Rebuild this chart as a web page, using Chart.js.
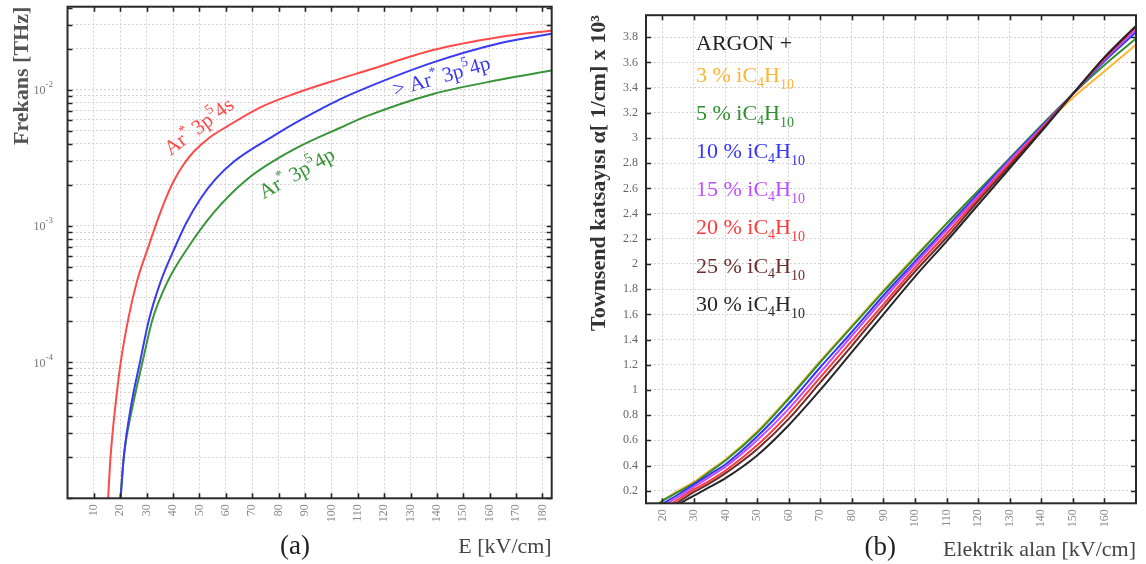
<!DOCTYPE html>
<html>
<head>
<meta charset="utf-8">
<script src="https://cdn.jsdelivr.net/npm/chart.js@4.4.1/dist/chart.umd.min.js"></script>
<style>
  html, body { margin: 0; padding: 0; background: #fff; }
  #wrap { position: relative; width: 1146px; height: 564px; }
  .panel { position: absolute; top: 0; height: 564px; width: 573px; }
  #panelA { left: 0; }
  #panelB { left: 573px; }
</style>
</head>
<body>
<div id="wrap">
  <div class="panel" id="panelA"><canvas id="chartA"></canvas></div>
  <div class="panel" id="panelB"><canvas id="chartB"></canvas></div>
</div>
<script>
// ---------- panel (a): Frekans vs E (log) ----------
const fieldTicksA = [10, 20, 30, 40, 50, 60, 70, 80, 90, 100, 110, 120, 130, 140, 150, 160, 170, 180];
const decadesA = [-5, -4, -3, -2];
const mantissasA = [1, 2, 3, 4, 5, 6, 7, 8, 9];
const labelledDecadesA = [-4, -3, -2];

// Ar* 3p5 4s
const red4sE = [15.4, 16.1, 17.0, 18.5, 20.1, 23.3, 26.4, 30.4, 33.0, 36.0, 40.3, 44.0, 47.9, 54.0, 60.5, 73.1, 86.0, 100.0, 113.4, 138.6, 163.8, 183.5];
const red4sF = [1.0e-5, 1.76e-5, 2.91e-5, 5.5e-5, 9.75e-5, 2.2e-4, 3.96e-4, 6.8e-4, 9.55e-4, 1.38e-3, 2.14e-3, 2.82e-3, 3.51e-3, 4.47e-3, 5.37e-3, 7.41e-3, 9.33e-3, 1.148e-2, 1.38e-2, 1.95e-2, 2.43e-2, 2.72e-2];
// > Ar* 3p5 4p
const blue4pE = [20.1, 21.4, 23.9, 27.7, 30.8, 35.2, 40.9, 45.0, 50.4, 56.0, 63.0, 78.1, 88.2, 103.4, 113.4, 138.6, 163.8, 183.5];
const blue4pF = [1.0e-5, 2.07e-5, 4.56e-5, 1.05e-4, 2.02e-4, 3.85e-4, 7.08e-4, 1.05e-3, 1.58e-3, 2.19e-3, 2.95e-3, 4.57e-3, 5.96e-3, 8.51e-3, 1.035e-2, 1.585e-2, 2.19e-2, 2.57e-2];
// Ar* 3p5 4p
const green4pE = [20.1, 21.4, 24.5, 28.3, 32.1, 37.8, 45.3, 55.4, 68.1, 85.8, 103.4, 113.4, 138.6, 163.8, 183.5];
const green4pF = [1.0e-5, 2.07e-5, 4.56e-5, 9.75e-5, 2.02e-4, 3.85e-4, 6.76e-4, 1.25e-3, 2.2e-3, 3.64e-3, 5.25e-3, 6.38e-3, 9.29e-3, 1.18e-2, 1.38e-2];

// ---------- panel (b): Townsend coefficient vs field ----------
const fieldTicksB = [20, 30, 40, 50, 60, 70, 80, 90, 100, 110, 120, 130, 140, 150, 160];
const alphaTicksB = [0.2, 0.4, 0.6, 0.8, 1, 1.2, 1.4, 1.6, 1.8, 2, 2.2, 2.4, 2.6, 2.8, 3, 3.2, 3.4, 3.6, 3.8];
const fieldGridB = [20, 25, 30, 35, 40, 50, 60, 70, 80, 90, 100, 110, 120, 130, 140, 150, 160, 170];
const mixLabels = ['3 %', '5 %', '10 %', '15 %', '20 %', '25 %', '30 %'];
const mixStartE = [18.8, 19.0, 20.3, 21.6, 23.0, 24.3, 25.5];   // field where each curve leaves the bottom axis
const alpha3 = [0.12, 0.20, 0.27, 0.36, 0.45, 0.67, 0.94, 1.23, 1.51, 1.79, 2.06, 2.32, 2.58, 2.83, 3.08, 3.32, 3.53, 3.74];
const alpha5 = [0.12, 0.19, 0.26, 0.35, 0.44, 0.66, 0.93, 1.22, 1.50, 1.78, 2.05, 2.32, 2.58, 2.84, 3.10, 3.35, 3.58, 3.79];
const alpha10 = [null, 0.17, 0.25, 0.33, 0.41, 0.63, 0.89, 1.18, 1.46, 1.75, 2.02, 2.29, 2.56, 2.83, 3.09, 3.35, 3.61, 3.84];
const alpha15 = [null, 0.15, 0.23, 0.31, 0.39, 0.60, 0.85, 1.14, 1.43, 1.72, 2.00, 2.27, 2.54, 2.82, 3.08, 3.35, 3.62, 3.86];
const alpha20 = [null, 0.13, 0.21, 0.28, 0.36, 0.56, 0.81, 1.10, 1.39, 1.68, 1.97, 2.24, 2.52, 2.80, 3.07, 3.35, 3.63, 3.88];
const alpha25 = [null, 0.11, 0.19, 0.26, 0.34, 0.53, 0.77, 1.06, 1.35, 1.65, 1.94, 2.21, 2.50, 2.78, 3.06, 3.35, 3.64, 3.89];
const alpha30 = [null, null, 0.16, 0.23, 0.30, 0.48, 0.72, 1.00, 1.30, 1.60, 1.90, 2.18, 2.47, 2.76, 3.05, 3.35, 3.64, 3.89];
const mixColors = ['#ffb432', '#2f8f2f', '#3434ff', '#bf4dff', '#ff3a3a', '#6e2c2c', '#262626'];

const SERIF = '"Liberation Serif", "Times New Roman", serif';
Chart.defaults.font.family = SERIF;

const yMinA = 1e-5, yMaxA = 0.0406;
const yMinB = 0.1, yMaxB = 3.975;

function pairs(xs, ys) {
    return xs.map((x, i) => ({ x: x, y: ys[i] }));
}

function mixSeries(i, values) {
    const pts = [{ x: mixStartE[i], y: yMinB }];
    fieldGridB.forEach((e, j) => {
        if (values[j] !== null && e > mixStartE[i]) pts.push({ x: e, y: values[j] });
    });
    return pts;
}

// text with sub/superscripts, optionally rotated
function drawRich(ctx, x, y, angle, parts, color) {
    ctx.save();
    ctx.translate(x, y);
    ctx.rotate(angle * Math.PI / 180);
    ctx.fillStyle = color;
    ctx.textAlign = 'left';
    ctx.textBaseline = 'alphabetic';
    let cx = 0;
    parts.forEach(p => {
        ctx.font = p.size + 'px ' + SERIF;
        ctx.fillText(p.t, cx, p.dy || 0);
        cx += ctx.measureText(p.t).width;
    });
    ctx.restore();
}

// box + inward tick marks on all four sides
const frameTicks = {
    id: 'frameTicks',
    afterDraw(chart) {
        const { ctx, chartArea: a, scales: { x, y } } = chart;
        ctx.save();
        ctx.strokeStyle = '#222';
        ctx.lineWidth = 1.6;
        ctx.beginPath();
        x.ticks.forEach(t => {
            const px = Math.round(x.getPixelForValue(t.value)) + 0.5;
            ctx.moveTo(px, a.bottom); ctx.lineTo(px, a.bottom - 5);
            ctx.moveTo(px, a.top); ctx.lineTo(px, a.top + 5);
        });
        y.ticks.forEach(t => {
            const py = Math.round(y.getPixelForValue(t.value)) + 0.5;
            ctx.moveTo(a.left, py); ctx.lineTo(a.left + 5, py);
            ctx.moveTo(a.right, py); ctx.lineTo(a.right - 5, py);
        });
        ctx.stroke();
        ctx.lineWidth = 2;
        ctx.strokeStyle = '#2a2a2a';
        ctx.strokeRect(a.left, a.top, a.width, a.height);
        ctx.restore();
    }
};

const curveLabelsA = [
    { color: '#ff4a4a', e: 39.0, f: 3.25e-3, angle: -37,
      parts: [{ t: 'Ar', size: 21 }, { t: '*', size: 14, dy: -9 }, { t: ' 3p', size: 21 }, { t: '5', size: 14, dy: -10 }, { t: '4s', size: 21 }] },
    { color: '#3a3af0', e: 124.1, f: 8.9e-3, angle: -16,
      parts: [{ t: '> Ar', size: 21 }, { t: '*', size: 14, dy: -9 }, { t: ' 3p', size: 21 }, { t: '5', size: 14, dy: -10 }, { t: '4p', size: 21 }] },
    { color: '#3a943a', e: 74.3, f: 1.57e-3, angle: -29,
      parts: [{ t: 'Ar', size: 21 }, { t: '*', size: 14, dy: -9 }, { t: ' 3p', size: 21 }, { t: '5', size: 14, dy: -10 }, { t: '4p', size: 21 }] }
];

const annotateA = {
    id: 'annotateA',
    afterDraw(chart) {
        const { ctx, chartArea: a, scales: { x, y } } = chart;
        // y tick labels 10^n
        y.ticks.forEach(t => {
            const d = Math.round(Math.log10(t.value));
            if (Math.abs(Math.log10(t.value) - d) > 1e-6 || !labelledDecadesA.includes(d)) return;
            const py = y.getPixelForValue(t.value);
            drawRich(ctx, a.left - 34, py + 4.5, 0, [{ t: '10', size: 12 }, { t: '-' + Math.abs(d), size: 9, dy: -7 }], '#777');
        });
        curveLabelsA.forEach(l => {
            drawRich(ctx, x.getPixelForValue(l.e), y.getPixelForValue(l.f), l.angle, l.parts, l.color);
        });
        ctx.save();
        ctx.font = '27px ' + SERIF;
        ctx.fillStyle = '#222';
        ctx.textAlign = 'center';
        ctx.textBaseline = 'middle';
        ctx.fillText('(a)', a.left + a.width * 0.47, 547);
        ctx.restore();
    }
};

const annotateB = {
    id: 'annotateB',
    afterDraw(chart) {
        const { ctx, chartArea: a } = chart;
        const lx = a.left + 50;
        drawRich(ctx, lx, 50, 0, [{ t: 'ARGON +', size: 22 }], '#222');
        mixLabels.forEach((m, i) => {
            drawRich(ctx, lx, 82 + i * 38.1, 0, [
                { t: m + ' iC', size: 22 }, { t: '4', size: 14, dy: 5 },
                { t: 'H', size: 22 }, { t: '10', size: 14, dy: 7 }
            ], mixColors[i]);
        });
        ctx.save();
        ctx.font = '27px ' + SERIF;
        ctx.fillStyle = '#222';
        ctx.textAlign = 'center';
        ctx.textBaseline = 'middle';
        ctx.fillText('(b)', a.left + a.width * 0.478, 548);
        ctx.restore();
    }
};

const gridStyle = { color: '#d2d2d2', lineWidth: 1, drawTicks: false };
const dotted = { display: false, dash: [2, 2] };
const tickFont = { family: SERIF, size: 12 };

new Chart(document.getElementById('chartA'), {
    type: 'line',
    data: {
        datasets: [
            { data: pairs(red4sE, red4sF), borderColor: '#ff4a4a', order: 1 },
            { data: pairs(blue4pE, blue4pF), borderColor: '#3a3af0', order: 2 },
            { data: pairs(green4pE, green4pF), borderColor: '#3a943a', order: 3 }
        ]
    },
    options: {
        responsive: true,
        maintainAspectRatio: false,
        animation: false,
        layout: { padding: { top: 6.7, right: 21.3, left: 0, bottom: 0 } },
        elements: {
            line: { borderWidth: 2, cubicInterpolationMode: 'monotone' },
            point: { radius: 0 }
        },
        datasets: { line: { clip: 0 } },
        scales: {
            x: {
                type: 'linear', min: 0, max: 183.5,
                afterBuildTicks: s => { s.ticks = fieldTicksA.map(v => ({ value: v })); },
                afterFit: s => { s.height = 65.7; },
                grid: gridStyle, border: dotted,
                ticks: { minRotation: 90, maxRotation: 90, padding: 6, color: '#8a8a8a', font: tickFont, callback: v => String(v) },
                title: { display: true, text: 'E [kV/cm]', align: 'end', color: '#444', font: { family: SERIF, size: 22 }, padding: { top: 0, bottom: 4 } }
            },
            y: {
                type: 'logarithmic', min: yMinA, max: yMaxA,
                afterBuildTicks: s => {
                    s.ticks = decadesA.flatMap(d => mantissasA.map(m => m * Math.pow(10, d)))
                        .filter(v => v <= yMaxA).map(v => ({ value: v }));
                },
                afterFit: s => { s.width = 67.5; },
                grid: gridStyle, border: dotted,
                ticks: { display: false },
                title: { display: true, text: 'Frekans [THz]', align: 'end', color: '#555', font: { family: SERIF, size: 22, weight: 'bold' }, padding: { top: 9, bottom: 0 } }
            }
        },
        plugins: { legend: { display: false }, tooltip: { enabled: false } }
    },
    plugins: [frameTicks, annotateA]
});

const mixValues = [alpha3, alpha5, alpha10, alpha15, alpha20, alpha25, alpha30];

new Chart(document.getElementById('chartB'), {
    type: 'line',
    data: {
        datasets: mixValues.map((vals, i) => ({
            label: mixLabels[i],
            data: mixSeries(i, vals),
            borderColor: mixColors[i],
            order: mixValues.length - i
        }))
    },
    options: {
        responsive: true,
        maintainAspectRatio: false,
        animation: false,
        layout: { padding: { top: 6.7, right: 10, left: 0, bottom: 0 } },
        elements: {
            line: { borderWidth: 2, cubicInterpolationMode: 'monotone' },
            point: { radius: 0 }
        },
        datasets: { line: { clip: 0 } },
        scales: {
            x: {
                type: 'linear', min: 14.8, max: 170,
                afterBuildTicks: s => { s.ticks = fieldTicksB.map(v => ({ value: v })); },
                afterFit: s => { s.height = 60.7; },
                grid: gridStyle, border: dotted,
                ticks: { minRotation: 90, maxRotation: 90, padding: 6, color: '#8a8a8a', font: tickFont, callback: v => String(v) },
                title: { display: true, text: 'Elektrik alan [kV/cm]', align: 'end', color: '#444', font: { family: SERIF, size: 22 }, padding: { top: 0, bottom: 1 } }
            },
            y: {
                type: 'linear', min: yMinB, max: yMaxB,
                afterBuildTicks: s => { s.ticks = alphaTicksB.map(v => ({ value: v })); },
                afterFit: s => { s.width = 73; },
                grid: gridStyle, border: dotted,
                ticks: { padding: 8, color: '#666', font: tickFont, callback: v => String(v) },
                title: { display: true, text: 'Townsend katsayısı α[ 1/cm] x 10³', align: 'end', color: '#333', font: { family: SERIF, size: 22, weight: 'bold' }, padding: { top: 13, bottom: 0 } }
            }
        },
        plugins: { legend: { display: false }, tooltip: { enabled: false } }
    },
    plugins: [frameTicks, annotateB]
});
</script>
</body>
</html>
